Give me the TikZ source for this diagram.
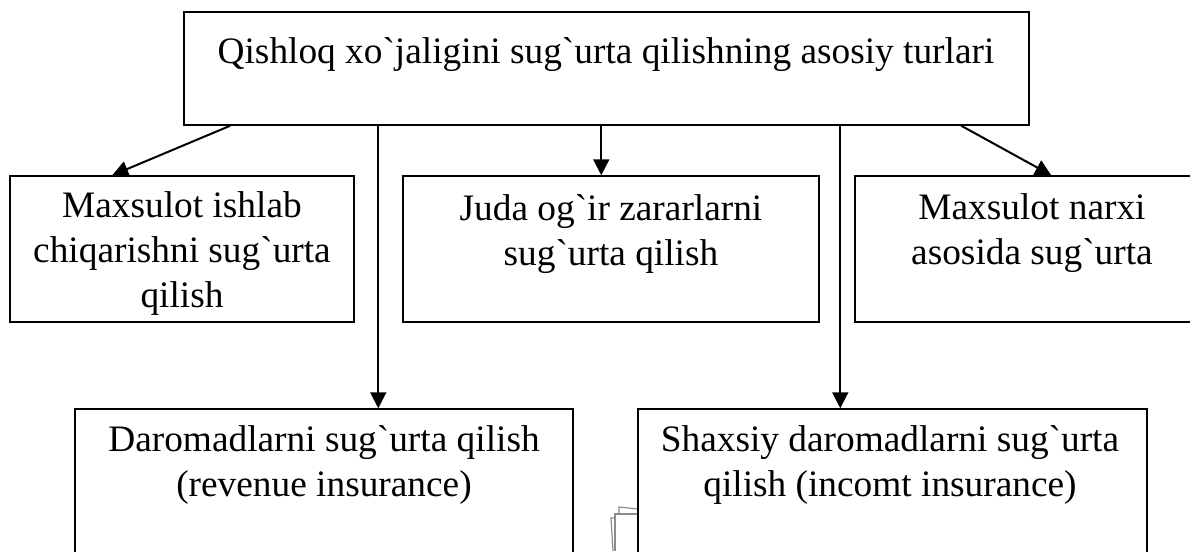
\documentclass[tikz,border=0pt]{standalone}
\usepackage{fontspec}
\setmainfont{Liberation Serif}[Ligatures=TeXOff]
\usetikzlibrary{arrows.meta,fit,calc}
\begin{document}
\begin{tikzpicture}[x=0.75pt,y=-0.75pt,
  box/.style={draw, line width=1.1pt, inner sep=0pt, fill=none},
  txt/.style={font=\fontsize{28}{33.5}\selectfont, align=center, inner sep=0pt, anchor=base},
  arr/.style={line width=1.5pt, -{Triangle[length=12pt,width=12pt]}},
  paper/.style={draw=gray!90, line width=0.9pt}]
\useasboundingbox (0,0) rectangle (1190,551);
\clip (0,0) rectangle (1190,551);
\fill[white] (0,0) rectangle (1190,551);
% boxes
\node[box, fit={(184,12) (1029,125)}] (top) {};
\node[box, fit={(10,176) (354,322)}] (L1) {};
\node[box, fit={(403,176) (819,322)}] (M) {};
\node[box, fit={(855,176) (1210,322)}] (R) {};
% paper artifact (behind lower right box)
\draw[paper] (619,514) -- (619,507) -- (638,509);
\draw[paper] (615,551) -- (615,514) -- (638,514);
\draw[paper] (613,551) -- (611,518) -- (615,518);
\node[box, fill=white, fit={(75,409) (573,580)}] (B1) {};
\node[box, fill=white, fit={(638,409) (1147,580)}] (B2) {};
% texts (base anchor = baseline of last line)
\node[txt] (ttop) at (606,63) {Qishloq xo`jaligini sug`urta qilishning asosiy turlari};
\node[txt] (tL1) at (182,307) {Maxsulot ishlab\\chiqarishni sug`urta\\qilish};
\node[txt] (tM) at (611,265) {Juda og`ir zararlarni\\sug`urta qilish};
\node[txt] (tR) at (1032,264) {Maxsulot narxi\\asosida sug`urta};
\node[txt] (tB1) at (324,496) {Daromadlarni sug`urta qilish\\(revenue insurance)};
\node[txt] (tB2) at (890,496) {Shaxsiy daromadlarni sug`urta\\qilish (incomt insurance)};
% connectors
\draw[arr] ($(top.south west)+(47,0)$) -- ($(L1.north west)+(103,0)$);
\draw[arr] ($(top.south west)+(195,0)$) -- ($(B1.north west)+(304,0)$);
\draw[arr] ($(top.south west)+(418,0)$) -- ($(M.north west)+(199,0)$);
\draw[arr] ($(top.south west)+(657,0)$) -- ($(B2.north west)+(203,0)$);
\draw[arr] ($(top.south west)+(778,0)$) -- ($(R.north west)+(197,0)$);
\end{tikzpicture}
\end{document}
